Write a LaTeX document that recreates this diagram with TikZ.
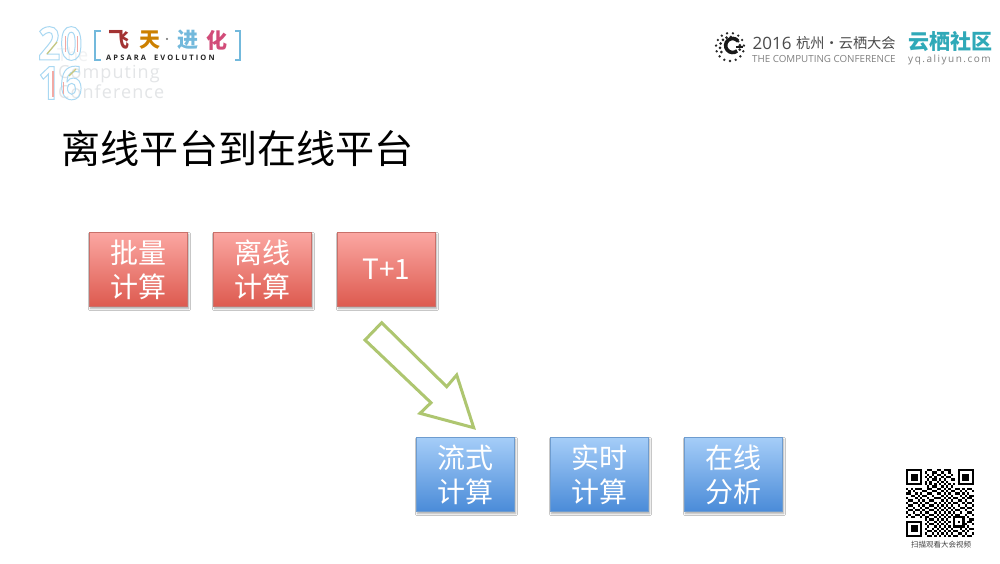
\documentclass[tikz,border=0pt]{standalone}
\usepackage{fontspec}
\setmainfont{Noto Sans CJK SC}
\newfontfamily\latinfont{Open Sans}
\usetikzlibrary{shadows.blur}
\definecolor{AlgaeGreen}{HTML}{AEC670}
\definecolor{RedTop}{HTML}{FBA7A2}
\definecolor{RedBottom}{HTML}{DD5A4F}
\definecolor{RedEdge}{HTML}{C9706A}
\definecolor{BlueTop}{HTML}{A5CDF8}
\definecolor{BlueBottom}{HTML}{4A8BD8}
\definecolor{BlueEdge}{HTML}{6E9CCF}
\definecolor{LogoBlue}{HTML}{A9D8F2}
\definecolor{LogoPink}{HTML}{F2A9A4}
\definecolor{LogoOlive}{HTML}{C9C77A}
\definecolor{LogoBracket}{HTML}{73B9DC}
\definecolor{LogoGrey}{HTML}{E3E5E7}
\definecolor{YunTeal}{HTML}{2FA9B8}
\definecolor{ConfGrey}{HTML}{4A4A4A}
\newfontfamily\stripefont{Open Sans}[FakeStretch=.84]
\newcommand{\stripedigits}[1]{\special{pdf:code 1 Tr 1 w}{\stripefont\bfseries\fontsize{46}{46}\selectfont\color{LogoBlue}#1}\special{pdf:code 0 Tr}}
\tikzset{
  redbox/.style={draw=RedEdge, top color=RedTop, bottom color=RedBottom, blur shadow={shadow xshift=1pt, shadow yshift=-2pt, shadow blur steps=5, shadow opacity=35}, minimum width=98pt, minimum height=74pt, inner sep=0pt, text=white, align=center, font=\fontsize{28}{34}\selectfont},
  bluebox/.style={draw=BlueEdge, top color=BlueTop, bottom color=BlueBottom, blur shadow={shadow xshift=1pt, shadow yshift=-2pt, shadow blur steps=5, shadow opacity=35}, minimum width=98pt, minimum height=74pt, inner sep=0pt, text=white, align=center, font=\fontsize{28}{34}\selectfont},
  logotext/.style={inner sep=0pt, anchor=west},
  bracketline/.style={draw=LogoBracket, line width=2.2pt},
  stripeline/.style={draw=LogoPink, line width=1.2pt},
  diagline/.style={draw=LogoOlive, line width=1.2pt},
}
\begin{document}
\begin{tikzpicture}[x=1pt, y=-1pt]
  \useasboundingbox[fill=white] (0,0) rectangle (1000,563);
  % left logo
  \node[logotext, text=LogoGrey!50, font=\latinfont\fontsize{18}{18}\selectfont] (the) at (57,55) {The};
  \node[logotext, text=LogoGrey, font=\latinfont\addfontfeature{LetterSpace=6}\fontsize{18}{18}\selectfont] (computing) at (58,74) {Computing};
  \node[logotext, text=LogoGrey, font=\latinfont\addfontfeature{LetterSpace=6}\fontsize{18}{18}\selectfont] (conference) at (58,92) {Conference};
  \node[logotext] (twenty) at (38,43.500) {\stripedigits{20}};
  \node[logotext] (sixteen) at (38,83) {\stripedigits{16}};
  \draw[stripeline] (65.500,36) -- (65.500,52);
  \draw[stripeline] (77.500,36) -- (77.500,52);
  \draw[stripeline] (53,71) -- (53,97);
  \draw[stripeline] (63.500,82) -- (63.500,94);
  \draw[diagline] (47,54) -- (57,42);
  \draw[diagline] (69,76) -- (76,69);
  \draw[bracketline] (101,31) -- (95,31) -- (95,60) -- (101,60);
  \draw[bracketline] (235,31) -- (240,31) -- (240,60) -- (235,60);
  \node[logotext, text=red!55!black!80, font=\bfseries\fontsize{21}{21}\selectfont] (fei) at (108,40) {飞};
  \node[logotext, text=orange!60!olive, font=\bfseries\fontsize{21}{21}\selectfont] (tian) at (139,40) {天};
  \node[logotext, text=gray, font=\bfseries\fontsize{8}{8}\selectfont] (dot) at (163,40) {·};
  \node[logotext, text=LogoBracket, font=\bfseries\fontsize{21}{21}\selectfont] (jin) at (177,40) {进};
  \node[logotext, text=purple!70, font=\bfseries\fontsize{21}{21}\selectfont] (hua) at (206,40) {化};
  \node[logotext, text=black!85, font=\latinfont\bfseries\addfontfeature{LetterSpace=28}\fontsize{7.5}{8}\selectfont] (apsara) at (106,57.500) {APSARA\ \ EVOLUTION};
  % right logo
  \foreach \ang in {0,24,...,336}
    \fill[black!85] (730,47) ++(\ang+90:14) circle (1.300);
  \foreach \ang in {60,85,...,300}
    \fill[black!85] (730,47) ++(\ang+90:10) circle (1.500);
  \draw[black!90, line width=3.600] (738,41) arc[start angle=-40, end angle=-310, radius=7] ;
  \draw[black!90, line width=2] (736,47) -- (743,47);
  \node[logotext, text=ConfGrey, font=\latinfont\fontsize{17}{17}\selectfont] (year) at (752.500,43) {2016};
  \node[logotext, text=ConfGrey, font=\fontsize{14.200}{15}\selectfont] (hangzhou) at (796,43) {杭州·云栖大会};
  \node[logotext, text=gray, font=\latinfont\fontsize{9.800}{10}\selectfont] (conf) at (752,58.500) {THE COMPUTING CONFERENCE};
  \node[logotext, text=YunTeal, font=\bfseries\fontsize{21}{21}\selectfont] (yunqi) at (908,42) {云栖社区};
  \node[logotext, text=gray, font=\latinfont\addfontfeature{LetterSpace=15}\fontsize{10}{10}\selectfont] (yq) at (908,59.500) {yq.aliyun.com};
  % title
  \node[logotext, font=\fontsize{39.100}{41}\selectfont] (title) at (61.500,148) {离线平台到在线平台};
  % offline boxes
  \node[redbox] (batch) at (138.500,269.500) {批量\\计算};
  \node[redbox] (offline) at (262.500,269.500) {离线\\计算};
  \node[redbox] (tplus) at (386.500,269.500) {T+1};
  % online boxes
  \node[bluebox] (stream) at (465.500,474.500) {流式\\计算};
  \node[bluebox] (realtime) at (599.500,474.500) {实时\\计算};
  \node[bluebox] (analysis) at (733.500,474.500) {在线\\分析};
  % block arrow
  \draw[AlgaeGreen, line width=3pt, line join=miter, fill=white]
    (381.700,322.700) -- (446.700,386.700) -- (456.700,375) -- (473.700,427.700)
    -- (420,413.300) -- (431,402.700) -- (365,340) -- cycle;
  % qr code
  \foreach \qrrow [count=\qry] in {
    {1,2,3,4,5,6,7,10,11,14,15,17,18,19,23,24,25,26,27,28,29},
    {1,7,9,12,13,16,19,23,29},
    {1,3,4,5,7,10,12,14,15,17,20,23,25,26,27,29},
    {1,3,4,5,7,9,11,13,16,18,19,23,25,26,27,29},
    {1,3,4,5,7,10,12,13,15,17,20,21,23,25,26,27,29},
    {1,7,9,11,14,16,18,23,29},
    {1,2,3,4,5,6,7,9,11,13,15,17,19,21,23,24,25,26,27,28,29},
    {10,12,13,16,18,20},
    {1,3,5,6,7,10,11,14,15,17,19,22,23,25,27,28},
    {2,4,8,9,12,13,16,18,20,21,24,26,29},
    {1,2,5,7,10,11,14,15,17,19,22,23,25,27},
    {3,4,6,8,9,12,16,18,20,24,26,28,29},
    {1,5,7,10,13,14,15,17,19,21,22,25,27,28},
    {2,3,6,8,11,12,16,18,20,23,24,26,29},
    {1,4,5,7,9,10,13,15,17,19,21,22,25,27,28},
    {2,3,6,8,11,12,14,16,18,20,23,26,29},
    {1,4,7,9,10,13,15,17,19,21,24,25,27,28},
    {2,3,5,6,8,11,12,14,16,18,20,22,23,26,29},
    {1,4,7,9,10,13,15,17,19,21,24,27,28},
    {2,5,6,8,11,12,14,16,18,20,22,23,26,29},
    {1,3,4,7,9,10,13,15,17,19,21,22,23,24,25,27},
    {9,11,12,14,16,18,21,25,28,29},
    {1,2,3,4,5,6,7,10,13,15,17,19,21,23,25,27,28},
    {1,7,9,11,12,14,16,18,21,25,26,29},
    {1,3,4,5,7,10,13,15,17,19,21,22,23,24,25,27},
    {1,3,4,5,7,9,12,14,16,18,20,24,26,28,29},
    {1,3,4,5,7,10,11,13,15,17,19,21,22,25,27},
    {1,7,9,12,14,16,18,20,23,24,26,29},
    {1,2,3,4,5,6,7,10,11,13,15,17,19,21,22,25,27,28}}
    \foreach \qrx in \qrrow
      \fill[black] ({906+(\qrx-1)*2.345},{469+(\qry-1)*2.345}) rectangle ++(2.345,2.345);
  \node[text=black!75, font=\fontsize{7.500}{8}\selectfont, inner sep=0pt] (scan) at (941,544.500) {扫描观看大会视频};
\end{tikzpicture}
\end{document}
